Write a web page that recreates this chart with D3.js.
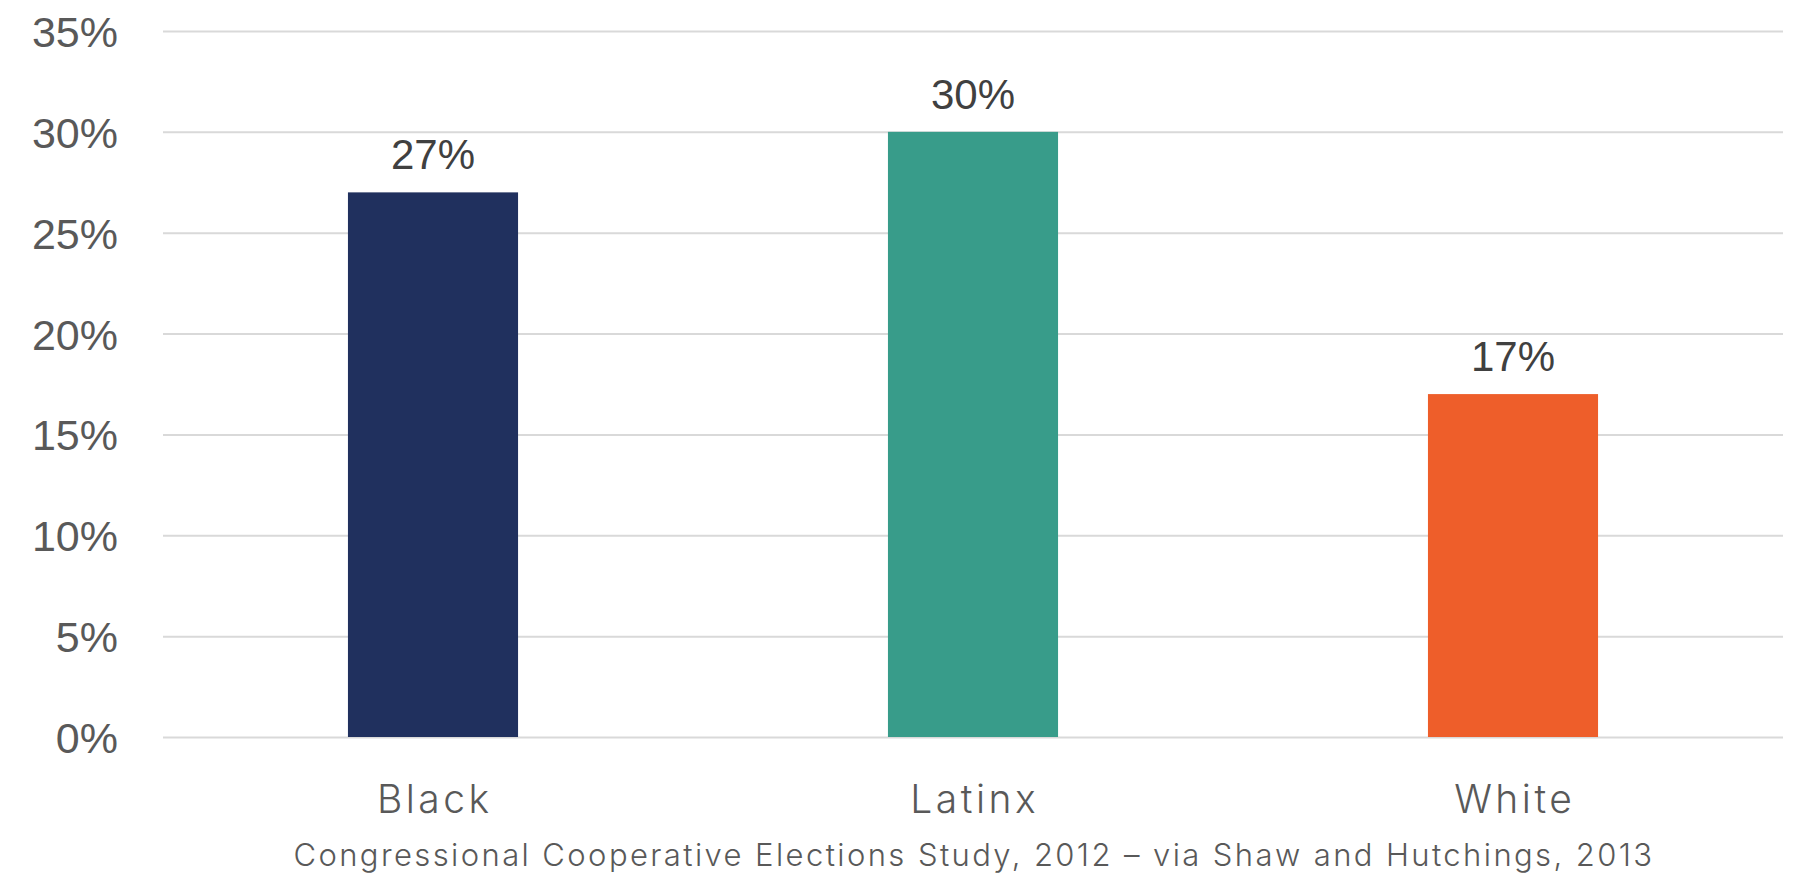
<!DOCTYPE html>
<html>
<head>
<meta charset="utf-8">
<script src="https://cdn.jsdelivr.net/npm/d3@7"></script>
<style>
  html, body { margin: 0; padding: 0; background: #ffffff; }
  svg { display: block; }
</style>
</head>
<body>
<svg id="chart" width="1806" height="874"></svg>
<script>
const categories = ["Black", "Latinx", "White"];
const values = [27, 30, 17];
const barColors = ["#20305E", "#389C8A", "#EE5E2A"];
const yTicks = [0, 5, 10, 15, 20, 25, 30, 35];
const caption = "Congressional Cooperative Elections Study, 2012 \u2013 via Shaw and Hutchings, 2013";

const svg = d3.select("#chart");
const plotLeft = 163, plotRight = 1783, plotTop = 31, plotBottom = 737;

const x = d3.scaleBand().domain(categories).range([plotLeft, plotRight])
  .paddingInner(0.685).paddingOuter(0.3425);
const y = d3.scaleLinear().domain([0, 35]).range([plotBottom, plotTop]);

// gridlines
const yAxis = d3.axisLeft(y).tickValues(yTicks).tickSize(-(plotRight - plotLeft)).tickFormat(d => d + "%").tickPadding(45);
const gy = svg.append("g").attr("transform", `translate(${plotLeft},0)`).call(yAxis);
gy.select(".domain").remove();
gy.selectAll(".tick line").attr("stroke", "#D9D9D9").attr("stroke-width", 2);
gy.selectAll(".tick text")
  .attr("fill", "#595959")
  .style("font-family", "'Liberation Sans', Arial, sans-serif")
  .style("font-size", "43px")
  .attr("dy", "0.36em");

// bars
svg.append("g").selectAll("rect").data(values).join("rect")
  .attr("x", (d, i) => x(categories[i]))
  .attr("width", x.bandwidth())
  .attr("y", d => y(d))
  .attr("height", d => y(0) - y(d))
  .attr("fill", (d, i) => barColors[i]);

// value labels
svg.append("g").selectAll("text").data(values).join("text")
  .attr("x", (d, i) => x(categories[i]) + x.bandwidth() / 2)
  .attr("y", d => y(d) - 23)
  .attr("text-anchor", "middle")
  .attr("fill", "#404040")
  .style("font-family", "'Liberation Sans', Arial, sans-serif")
  .style("font-size", "42px")
  .text(d => d + "%");

// x axis labels
const xAxis = d3.axisBottom(x).tickSize(0).tickPadding(0);
const gx = svg.append("g").attr("transform", `translate(0,${plotBottom})`).call(xAxis);
gx.select(".domain").remove();
gx.selectAll(".tick text")
  .attr("fill", "#595959")
  .attr("dy", null)
  .attr("y", 76)
  .attr("dx", "1.75px")
  .style("font-family", "Inter, 'Open Sans', sans-serif")
  .style("font-size", "39px")
  .style("letter-spacing", "3.5px")
  .style("font-weight", 300);

// caption
svg.append("text")
  .attr("x", (plotLeft + plotRight) / 2 + 1)
  .attr("y", 866)
  .attr("text-anchor", "middle")
  .attr("fill", "#595959")
  .style("font-family", "Inter, 'Open Sans', sans-serif")
  .style("font-size", "31px")
  .style("letter-spacing", "2.4px")
  .style("font-weight", 300)
  .text(caption);
</script>
</body>
</html>
